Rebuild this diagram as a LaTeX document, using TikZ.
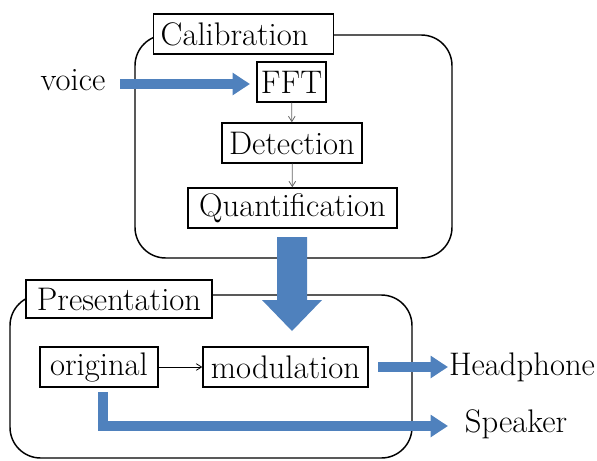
\documentclass[tikz,border=0pt]{standalone}
\usetikzlibrary{arrows.meta}
\begin{document}
\begin{tikzpicture}[x=0.75pt,y=-0.75pt,
  every node/.style={font=\fontsize{24.5}{28}\selectfont},
  box/.style={draw,line width=1.1pt,fill=white,inner sep=0pt},
  group/.style={draw,line width=1.1pt,rounded corners=23pt},
  thin/.style={draw=gray!80!black,line width=0.6pt,-{Straight Barb[length=4pt,width=5pt]}},
  bluearrow/.style={draw=blue0,line width=7.5pt,-{Triangle[length=13pt,width=16pt]}}]
\definecolor{blue0}{RGB}{79,129,189}
\useasboundingbox (0,0) rectangle (597,461);
\draw[group] (135,35) rectangle (452,258);
\draw[group] (10,295) rectangle (412,458);
\node[box,anchor=west,minimum height=40*0.75pt,text width=166*0.75pt,inner xsep=7*0.75pt,align=left] (cal) at (153,34) {Calibration};
\node[box,minimum width=69*0.75pt,minimum height=40*0.75pt] (fft) at (291.5,82) {FFT};
\node[box,minimum width=140*0.75pt,minimum height=40*0.75pt] (det) at (292,143) {Detection};
\node[box,minimum width=209*0.75pt,minimum height=40*0.75pt] (qua) at (292.5,208) {Quantification};
\node (voice) at (73,80) {voice};
\node[box,minimum width=186*0.75pt,minimum height=38*0.75pt] (pre) at (119,299) {Presentation};
\node[box,minimum width=118*0.75pt,minimum height=40*0.75pt] (ori) at (99,367) {original};
\node[box,minimum width=165*0.75pt,minimum height=40*0.75pt] (mod) at (285.5,367) {modulation};
\node (hp) at (522,367) {Headphone};
\node (spk) at (516,424) {Speaker};
\coordinate (vs) at (120,84);
\coordinate (ve) at (250,84);
\draw[bluearrow] (vs) -- (ve);
\draw[thin] (fft) -- (det);
\draw[thin] (det) -- (qua);
\draw[thin,draw=black] (ori) -- (mod);
\coordinate (hs) at (378,367);
\coordinate (he) at (448,367);
\draw[bluearrow] (hs) -- (he);
\coordinate (ss) at (103,392);
\coordinate (sc) at (103,426);
\coordinate (se) at (448,426);
\draw[bluearrow,line cap=butt] (ss) -- (sc) -- (se);
\fill[blue0] (277,237) -- (307,237) -- (307,300) -- (322,300) -- (292,331) -- (262,300) -- (277,300) -- cycle;
\end{tikzpicture}
\end{document}
